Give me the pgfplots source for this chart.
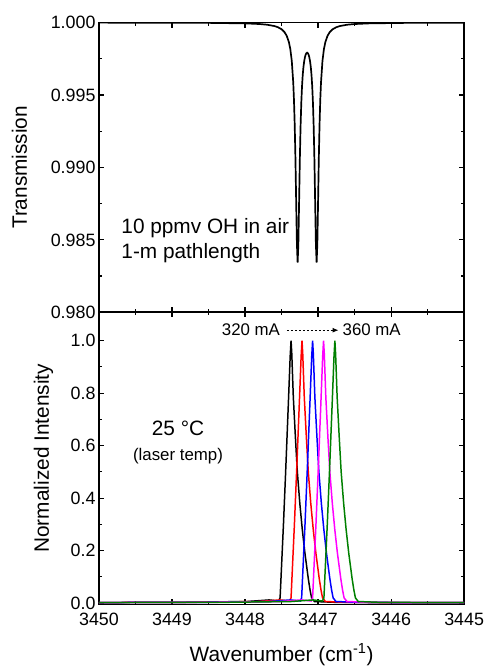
\documentclass[border=0pt]{standalone}
\usepackage{fontspec}
\setmainfont{Liberation Sans}
\usepackage{pgfplots}
\pgfplotsset{compat=1.18}
\usetikzlibrary{arrows.meta}
\definecolor{dkgreen}{RGB}{0,128,0}
\definecolor{mag}{RGB}{255,0,255}

\pgfplotsset{
  spec/.style={
    scale only axis, width=367.2bp,
    xmin=3445, xmax=3450, x dir=reverse,
    xtick={3445,3446,3447,3448,3449,3450},
    minor x tick num=1, minor y tick num=1,
    tick align=inside, tick pos=both,
    major tick length=5bp, minor tick length=3bp,
    axis line style={line width=1.6bp},
    tick style={line width=1.2bp, black},
    tick label style={font=\fontsize{18}{21}\selectfont},
    xticklabel style={/pgf/number format/.cd, 1000 sep={}, assume math mode=true, /tikz/yshift=-5bp},
    label style={font=\fontsize{21}{25}\selectfont},
  }
}

\begin{document}
\begin{tikzpicture}
% upper panel: transmission
\begin{axis}[spec, at={(0,0)}, anchor=south west, height=291.3bp,
    ymin=0.98, ymax=1.0, ytick={0.98,0.985,0.99,0.995,1},
    xticklabels={},
    yticklabel style={/pgf/number format/.cd, fixed, fixed zerofill, precision=3, assume math mode=true},
    ylabel={Transmission},
    ylabel style={at={(axis description cs:-0.218,0.5)}, anchor=center},
]
\addplot[black, line width=1.7bp] coordinates {
(3450,0.999995)(3449,0.999989)(3448.5,0.999979)(3448,0.999944)
(3447.8,0.999900)(3447.7,0.999853)(3447.6,0.999762)(3447.55,0.999679)
(3447.5,0.999539)(3447.46,0.999342)(3447.43,0.999093)(3447.40,0.998661)
(3447.38,0.998166)(3447.36,0.997349)(3447.34,0.995858)(3447.33,0.994656)
(3447.32,0.992953)(3447.31,0.990619)(3447.30,0.987653)(3447.29,0.984746)
(3447.28,0.983426)(3447.27,0.984704)(3447.26,0.987569)(3447.25,0.990491)
(3447.24,0.992780)(3447.23,0.994434)(3447.22,0.995582)(3447.21,0.996384)
(3447.20,0.996949)(3447.19,0.997333)(3447.18,0.997606)(3447.17,0.997784)
(3447.16,0.997882)(3447.15,0.997920)(3447.14,0.997882)(3447.13,0.997784)
(3447.12,0.997606)(3447.11,0.997333)(3447.10,0.996949)(3447.09,0.996384)
(3447.08,0.995582)(3447.07,0.994434)(3447.06,0.992780)(3447.05,0.990491)
(3447.04,0.987569)(3447.03,0.984704)(3447.02,0.983426)(3447.01,0.984746)
(3447.00,0.987653)(3446.99,0.990619)(3446.98,0.992953)(3446.97,0.994656)
(3446.96,0.995858)(3446.94,0.997349)(3446.92,0.998166)(3446.90,0.998661)
(3446.87,0.999093)(3446.84,0.999342)(3446.80,0.999539)(3446.75,0.999679)
(3446.70,0.999762)(3446.60,0.999853)(3446.50,0.999900)(3446.30,0.999944)
(3445.80,0.999979)(3445.30,0.999989)(3445,0.999992)
};
\node[anchor=base west, font=\fontsize{21}{25}\selectfont] at (axis description cs:0.052,0.271) {10 ppmv OH in air};
\node[anchor=base west, font=\fontsize{21}{25}\selectfont] at (axis description cs:0.052,0.184) {1-m pathlength};
\end{axis}

% lower panel: laser emission
\begin{axis}[spec, at={(0,0)}, anchor=north west, height=293.7bp,
    ymin=-0.005, ymax=1.108, ytick={0,0.2,0.4,0.6,0.8,1},
    yticklabel style={/pgf/number format/.cd, fixed, fixed zerofill, precision=1, assume math mode=true},
    xlabel={Wavenumber (cm\textsuperscript{-1})},
    xlabel style={at={(axis description cs:0.5,0)}, anchor=base, yshift=-57.3bp},
    ylabel={Normalized Intensity},
    ylabel style={at={(axis description cs:-0.152,0.5)}, anchor=center},
]
\addplot[black, line width=1.5bp] coordinates {
(3450,0.002)(3448.87,0.003)(3447.97,0.006)(3447.67,0.012)(3447.54,0.008)
(3447.52,0.02)(3447.474,0.30)(3447.444,0.50)(3447.407,0.76)(3447.382,0.94)
(3447.37,1.0)(3447.36,0.95)(3447.339,0.785)(3447.31,0.63)(3447.284,0.50)
(3447.25,0.38)(3447.216,0.28)(3447.18,0.19)(3447.134,0.093)(3447.11,0.05)
(3447.089,0.02)(3447.05,0.006)(3446.77,0.003)(3446.17,0.002)(3445,0.002)
};
\addplot[red, line width=1.5bp] coordinates {
(3450,0.002)(3448.72,0.003)(3447.82,0.006)(3447.52,0.012)(3447.39,0.008)
(3447.37,0.02)(3447.324,0.30)(3447.294,0.50)(3447.257,0.76)(3447.232,0.94)
(3447.22,1.0)(3447.21,0.95)(3447.189,0.785)(3447.16,0.63)(3447.134,0.50)
(3447.10,0.38)(3447.066,0.28)(3447.03,0.19)(3446.984,0.093)(3446.96,0.05)
(3446.939,0.02)(3446.90,0.006)(3446.62,0.003)(3446.02,0.002)(3445,0.002)
};
\addplot[blue, line width=1.5bp] coordinates {
(3450,0.002)(3448.575,0.003)(3447.675,0.006)(3447.375,0.012)(3447.245,0.008)
(3447.225,0.02)(3447.179,0.30)(3447.149,0.50)(3447.112,0.76)(3447.087,0.94)
(3447.075,1.0)(3447.065,0.95)(3447.044,0.785)(3447.015,0.63)(3446.989,0.50)
(3446.955,0.38)(3446.921,0.28)(3446.885,0.19)(3446.839,0.093)(3446.815,0.05)
(3446.794,0.02)(3446.755,0.006)(3446.475,0.003)(3445.875,0.002)(3445,0.002)
};
\addplot[mag, line width=1.5bp] coordinates {
(3450,0.002)(3448.425,0.003)(3447.525,0.006)(3447.225,0.012)(3447.095,0.008)
(3447.075,0.02)(3447.029,0.30)(3446.999,0.50)(3446.962,0.76)(3446.937,0.94)
(3446.925,1.0)(3446.915,0.95)(3446.894,0.785)(3446.865,0.63)(3446.839,0.50)
(3446.805,0.38)(3446.771,0.28)(3446.735,0.19)(3446.689,0.093)(3446.665,0.05)
(3446.644,0.02)(3446.605,0.006)(3446.325,0.003)(3445.725,0.002)(3445,0.002)
};
\addplot[dkgreen, line width=1.5bp] coordinates {
(3450,0.002)(3448.27,0.003)(3447.37,0.006)(3447.07,0.012)(3446.94,0.008)
(3446.92,0.02)(3446.874,0.30)(3446.844,0.50)(3446.807,0.76)(3446.782,0.94)
(3446.77,1.0)(3446.76,0.95)(3446.739,0.785)(3446.71,0.63)(3446.684,0.50)
(3446.65,0.38)(3446.616,0.28)(3446.58,0.19)(3446.534,0.093)(3446.51,0.05)
(3446.489,0.02)(3446.45,0.006)(3446.17,0.003)(3445.57,0.002)(3445,0.002)
};
\node[anchor=base, font=\fontsize{21}{25}\selectfont] at (axis description cs:0.2165,0.5768) {25 °C};
\node[anchor=base, font=\fontsize{17}{20}\selectfont] at (axis description cs:0.2165,0.4927) {(laser temp)};
\node[anchor=base east, font=\fontsize{17}{20}\selectfont] at (axis description cs:0.5052,0.9207) {320 mA};
\node[anchor=base west, font=\fontsize{17}{20}\selectfont] at (axis description cs:0.6577,0.9207) {360 mA};
\draw[line width=1bp, dash pattern=on 2.5bp off 1.5bp, -{Latex[length=6bp,width=5bp]}]
  (axis description cs:0.5147,0.9387) -- (axis description cs:0.656,0.9387);
\end{axis}

\path (-99.5bp,314bp) rectangle (387.5bp,-355bp);
\end{tikzpicture}
\end{document}
